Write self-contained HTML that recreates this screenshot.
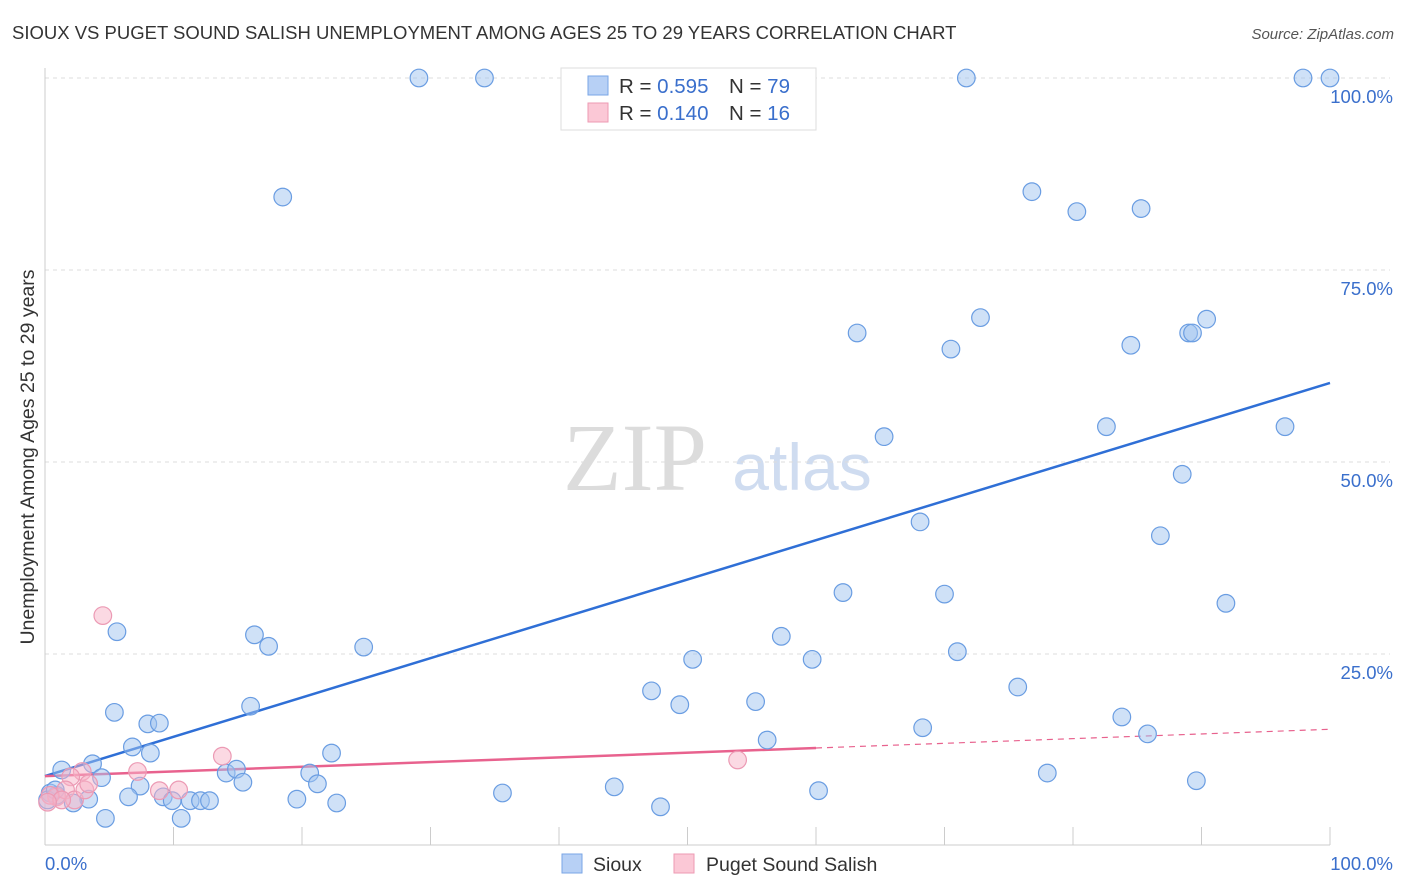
<!DOCTYPE html>
<html><head><meta charset="utf-8"><style>
body{margin:0;background:#fff;font-family:"Liberation Sans",sans-serif;}
svg{display:block}
</style></head><body>
<svg id="chart" width="1406" height="892" xmlns="http://www.w3.org/2000/svg" font-family="Liberation Sans, sans-serif">
<text x="12" y="39" font-size="18.5" fill="#333">SIOUX VS PUGET SOUND SALISH UNEMPLOYMENT AMONG AGES 25 TO 29 YEARS CORRELATION CHART</text>
<text x="1394" y="39" font-size="15" fill="#555" text-anchor="end" font-style="italic">Source: ZipAtlas.com</text>
<text transform="translate(34,457) rotate(-90)" font-size="19.5" fill="#333" text-anchor="middle">Unemployment Among Ages 25 to 29 years</text>
<g>
<text x="635" y="490" font-size="96" fill="#dcdcdc" font-family="Liberation Serif, serif" text-anchor="middle">ZIP</text>
<text x="802" y="490" font-size="66" fill="#cfdcf0" text-anchor="middle">atlas</text>
</g>
<g id="grid"></g><g id="axes"></g><g id="lines"></g><g id="pts"></g>
<g>
<rect x="561" y="68" width="255" height="62" fill="#fff" stroke="#ddd"/>
<rect x="588" y="76" width="20" height="19" fill="#b7d0f5" stroke="#7aa6e6"/>
<rect x="588" y="103" width="20" height="19" fill="#fbc8d6" stroke="#ee9ab3"/>
<text x="619" y="93" font-size="20.5" fill="#333">R = <tspan fill="#3a6fcc">0.595</tspan></text>
<text x="729" y="93" font-size="20.5" fill="#333">N = <tspan fill="#3a6fcc">79</tspan></text>
<text x="619" y="120" font-size="20.5" fill="#333">R = <tspan fill="#3a6fcc">0.140</tspan></text>
<text x="729" y="120" font-size="20.5" fill="#333">N = <tspan fill="#3a6fcc"> 16</tspan></text>
</g>
<g>
<rect x="562" y="854" width="20" height="19" fill="#b7d0f5" stroke="#7aa6e6"/>
<text x="593" y="871" font-size="19.5" fill="#333">Sioux</text>
<rect x="674" y="854" width="20" height="19" fill="#fbc8d6" stroke="#ee9ab3"/>
<text x="706" y="871" font-size="19.5" fill="#333">Puget Sound Salish</text>
</g>
</svg>
<script>
const siouxX=[29.1,34.2,71.7,97.9,100,18.5,76.8,80.3,85.3,63.2,72.8,70.5,84.5,89.0,89.3,90.4,65.3,82.6,96.5,88.5,68.1,86.8,62.1,70.0,91.9,5.6,16.3,17.4,24.8,57.3,50.4,59.7,71.0,47.2,49.4,55.3,75.7,16.0,5.4,8.0,8.9,68.3,83.8,6.8,8.2,22.3,56.2,85.8,3.7,1.3,4.4,14.1,14.9,20.6,15.4,21.2,7.4,78.0,89.6,6.5,9.2,9.9,11.3,12.1,12.8,19.6,22.7,35.6,44.3,60.2,47.9,3.4,2.2,0.9,0.4,4.7,10.6,0.2,0.8];
const siouxY=[100,100,100,100,100,84.5,85.2,82.6,83.0,66.8,68.8,64.7,65.2,66.8,66.8,68.6,53.3,54.6,54.6,48.4,42.2,40.4,33.0,32.8,31.6,27.9,27.5,26.0,25.9,27.3,24.3,24.3,25.3,20.2,18.4,18.8,20.7,18.2,17.4,15.9,16.0,15.4,16.8,12.9,12.1,12.1,13.8,14.6,10.7,9.9,8.9,9.5,10.0,9.5,8.3,8.1,7.8,9.5,8.5,6.4,6.4,5.9,5.9,5.9,5.9,6.1,5.6,6.9,7.7,7.2,5.1,6.1,5.6,6.6,6.9,3.6,3.6,6.0,7.3];
const pugetX=[4.5,13.8,7.2,2.9,2.0,8.9,10.4,53.9,0.9,1.6,2.3,3.1,0.4,1.3,0.2,3.4];
const pugetY=[30.0,11.7,9.7,9.7,9.0,7.2,7.3,11.2,6.4,7.3,6.0,7.3,6.6,6.0,5.7,8.1];
const siouxTrend=[9.1,60.3];
const pugetTrend=[9.1,15.2];
const pugetSolidEnd=60;
const yTicks=[25,50,75,100];
const yTickLabels=["25.0%","50.0%","75.0%","100.0%"];
const xTicks=[0,10,20,30,40,50,60,70,80,90,100];
const NS="http://www.w3.org/2000/svg";
const X0=45,X1=1330,Y0=846,Y100=78;
const sx=v=>X0+(X1-X0)*v/100, sy=v=>Y0+(Y100-Y0)*v/100;
function mk(tag,attrs,parent){const e=document.createElementNS(NS,tag);for(const k in attrs)e.setAttribute(k,attrs[k]);document.getElementById(parent).appendChild(e);return e;}
yTicks.forEach((t,i)=>{
 const g=mk('line',{x1:X0,x2:1390,y1:sy(t),y2:sy(t),stroke:'#ddd','stroke-dasharray':'4,4'},'grid');
 
 
 const l=mk('text',{x:1393,y:sy(t)+25,'font-size':18.5,fill:'#3a6fcc','text-anchor':'end'},'axes');
 l.textContent=yTickLabels[i];
 
 
});
let a=mk('line',{x1:X0,x2:X0,y1:68,y2:845,stroke:'#ccc'},'axes');


a=mk('line',{x1:X0,x2:X1,y1:845,y2:845,stroke:'#ccc'},'axes');


xTicks.forEach(t=>{if(t===0)return;const tk=mk('line',{x1:sx(t),x2:sx(t),y1:827,y2:845,stroke:'#ccc'},'axes');
 
 });
[["0.0%",X0,'start'],["100.0%",1393,'end']].forEach(([s,x,an])=>{const t=mk('text',{x:x,y:870,'font-size':18.5,fill:'#3a6fcc','text-anchor':an},'axes');t.textContent=s;
 
 });
let ln=mk('line',{x1:sx(0),y1:sy(siouxTrend[0]),x2:sx(100),y2:sy(siouxTrend[1]),stroke:'#2f6fd6','stroke-width':2.5},'lines');


const pm=pugetTrend[0]+(pugetTrend[1]-pugetTrend[0])*pugetSolidEnd/100;
ln=mk('line',{x1:sx(0),y1:sy(pugetTrend[0]),x2:sx(pugetSolidEnd),y2:sy(pm),stroke:'#e8628e','stroke-width':2.5},'lines');


ln=mk('line',{x1:sx(pugetSolidEnd),y1:sy(pm),x2:sx(100),y2:sy(pugetTrend[1]),stroke:'#e8628e','stroke-width':1.2,'stroke-dasharray':'6,5'},'lines');


siouxX.forEach((x,i)=>{const c=mk('circle',{cx:sx(x),cy:sy(siouxY[i]),r:8.8,fill:'rgba(160,196,240,0.5)',stroke:'#6a9de2','stroke-width':1.2},'pts');
 
 });
pugetX.forEach((x,i)=>{const c=mk('circle',{cx:sx(x),cy:sy(pugetY[i]),r:8.8,fill:'rgba(248,180,200,0.5)',stroke:'#ec9ab4','stroke-width':1.2},'pts');
 
 });
</script>
</body></html>
